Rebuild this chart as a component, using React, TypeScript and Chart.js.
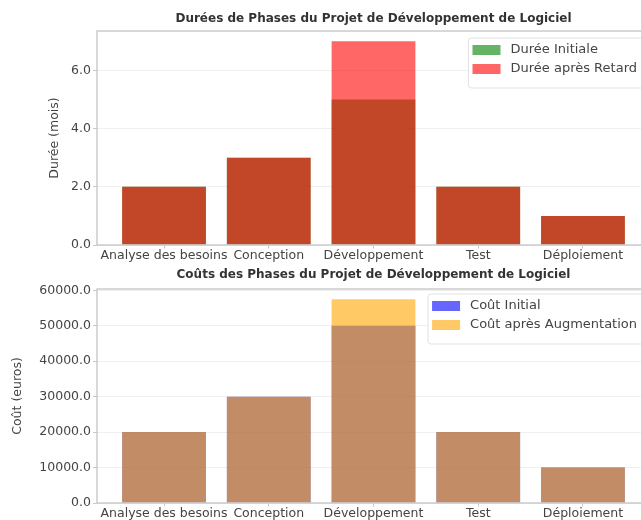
import React, { useEffect, useRef } from 'react';
import { Chart, registerables } from 'chart.js';

Chart.register(...registerables);

// ---- data ----
const categories = ['Analyse des besoins', 'Conception', 'Développement', 'Test', 'Déploiement'];
const dureeInitiale = [2, 3, 5, 2, 1];
const dureeApresRetard = [2, 3, 7, 2, 1];
const coutInitial = [20000, 30000, 50000, 20000, 10000];
const coutApresAugmentation = [20000, 30000, 57500, 20000, 10000];
const dureeTicks = [0, 2, 4, 6];
const coutTicks = [0, 10000, 20000, 30000, 40000, 50000, 60000];

const FONT = "'DejaVu Sans', sans-serif";
const TEXT = '#444444';
const SPINE = '#c8c8c8';
const FS = 12.5;

const framePlugin = {
  id: 'frame',
  afterDatasetsDraw(chart: any) {
    const { ctx, chartArea: a } = chart;
    ctx.save();
    ctx.strokeStyle = SPINE;
    ctx.lineWidth = 1.4;
    ctx.strokeRect(a.left, a.top, a.right - a.left, a.bottom - a.top);
    ctx.restore();
  },
};

const legendPlugin = {
  id: 'boxLegend',
  afterDraw(chart: any) {
    const opts = chart.options.plugins.boxLegend || {};
    const { ctx, chartArea: a } = chart;
    const ds = chart.data.datasets;
    ctx.save();
    ctx.font = `13px ${FONT}`;
    const tw = Math.max(...ds.map((d: any) => ctx.measureText(d.label).width));
    const patchW = 28, patchH = 10, pad = 4, gap = 10, rowH = 19;
    const w = pad + patchW + gap + tw + 8;
    const h = 8 + rowH * ds.length + 4;
    const right = a.right - 5;
    const left = right - w;
    const top = a.top + (opts.offsetTop ?? 6);
    ctx.fillStyle = 'rgba(255,255,255,0.85)';
    ctx.strokeStyle = '#e2e2e2';
    ctx.lineWidth = 1;
    ctx.beginPath();
    (ctx as any).roundRect(left, top, w, h, 3);
    ctx.fill();
    ctx.stroke();
    ds.forEach((d: any, i: number) => {
      const cy = top + 12 + i * rowH;
      ctx.fillStyle = d.backgroundColor;
      ctx.fillRect(left + pad, cy - patchH / 2, patchW, patchH);
      ctx.fillStyle = TEXT;
      ctx.textBaseline = 'middle';
      ctx.textAlign = 'left';
      ctx.fillText(d.label, left + pad + patchW + gap, cy);
    });
    ctx.restore();
  },
};

function buildConfig(p: {
  title: string; yTitle: string; yTitlePad: number; titlePad: { top: number; bottom: number };
  a: number[]; b: number[]; la: string; lb: string; ca: string; cb: string;
  yMax: number; yTicks: number[]; xHeight: number; legendTop: number;
}) {
  return {
    type: 'bar',
    data: {
      datasets: [
        {
          label: p.la,
          data: p.a.map((v, i) => ({ x: i, y: v })),
          backgroundColor: p.ca,
          borderWidth: 0,
          grouped: false,
          barPercentage: 0.8,
          categoryPercentage: 1,
          order: 1,
        },
        {
          label: p.lb,
          data: p.b.map((v, i) => ({ x: i, y: v })),
          backgroundColor: p.cb,
          borderWidth: 0,
          grouped: false,
          barPercentage: 0.8,
          categoryPercentage: 1,
          order: 0,
        },
      ],
    },
    options: {
      responsive: false,
      animation: false,
      layout: { padding: { left: 0, right: 10, top: 0, bottom: 0 } },
      plugins: {
        legend: { display: false },
        tooltip: { enabled: false },
        title: {
          display: true,
          fullSize: false,
          text: p.title,
          color: '#333333',
          font: { family: FONT, size: 12, weight: 'bold' },
          padding: p.titlePad,
        },
        boxLegend: { offsetTop: p.legendTop },
      },
      scales: {
        x: {
          type: 'linear',
          offset: false,
          min: -0.64,
          max: 4.64,
          afterBuildTicks: (s: any) => { s.ticks = categories.map((_, i) => ({ value: i })); },
          afterFit: (s: any) => { s.height = p.xHeight; },
          ticks: {
            autoSkip: false,
            maxRotation: 0,
            padding: 0,
            color: TEXT,
            font: { family: FONT, size: FS },
            callback: (v: any) => categories[Math.round(v)] ?? '',
          },
          grid: { display: true, offset: false, color: 'rgba(0,0,0,0)', tickColor: SPINE, tickLength: 3.5 },
          border: { display: false },
        },
        y: {
          type: 'linear',
          min: 0,
          max: p.yMax,
          afterBuildTicks: (s: any) => { s.ticks = p.yTicks.map((v) => ({ value: v })); },
          afterFit: (s: any) => { s.width = 97; },
          ticks: {
            padding: 2,
            color: TEXT,
            font: { family: FONT, size: FS },
            callback: (v: any) => Number(v).toFixed(1),
          },
          grid: { color: '#efefef', tickColor: SPINE, tickLength: 4, lineWidth: 1 },
          border: { display: false },
          title: {
            display: true,
            text: p.yTitle,
            color: TEXT,
            font: { family: FONT, size: FS },
            padding: { top: p.yTitlePad, bottom: 0 },
          },
        },
      },
    },
    plugins: [framePlugin, legendPlugin],
  } as any;
}

export default function App() {
  const topRef = useRef<HTMLCanvasElement>(null);
  const botRef = useRef<HTMLCanvasElement>(null);

  useEffect(() => {
    const c1 = new Chart(topRef.current!, buildConfig({
      title: 'Durées de Phases du Projet de Développement de Logiciel',
      yTitle: 'Durée (mois)',
      yTitlePad: 47.5,
      titlePad: { top: 11.3, bottom: 5.3 },
      a: dureeInitiale, b: dureeApresRetard,
      la: 'Durée Initiale', lb: 'Durée après Retard',
      ca: 'rgba(0,128,0,0.6)', cb: 'rgba(255,0,0,0.6)',
      yMax: 7.35, yTicks: dureeTicks, xHeight: 25, legendTop: 7,
    }));
    const c2 = new Chart(botRef.current!, buildConfig({
      title: 'Coûts des Phases du Projet de Développement de Logiciel',
      yTitle: 'Coût (euros)',
      yTitlePad: 10.5,
      titlePad: { top: 9.3, bottom: 7.3 },
      a: coutInitial, b: coutApresAugmentation,
      la: 'Coût Initial', lb: 'Coût après Augmentation',
      ca: 'rgba(0,0,255,0.6)', cb: 'rgba(255,165,0,0.6)',
      yMax: 60375, yTicks: coutTicks, xHeight: 17, legendTop: 5,
    }));
    return () => { c1.destroy(); c2.destroy(); };
  }, []);

  return (
    <div style={{ position: 'absolute', left: 0, top: 0, width: 641, height: 520, overflow: 'hidden', background: '#fff' }}>
      <canvas ref={topRef} width={660} height={270} style={{ position: 'absolute', left: 0, top: 0 }} />
      <canvas ref={botRef} width={660} height={262} style={{ position: 'absolute', left: 0, top: 258 }} />
    </div>
  );
}
